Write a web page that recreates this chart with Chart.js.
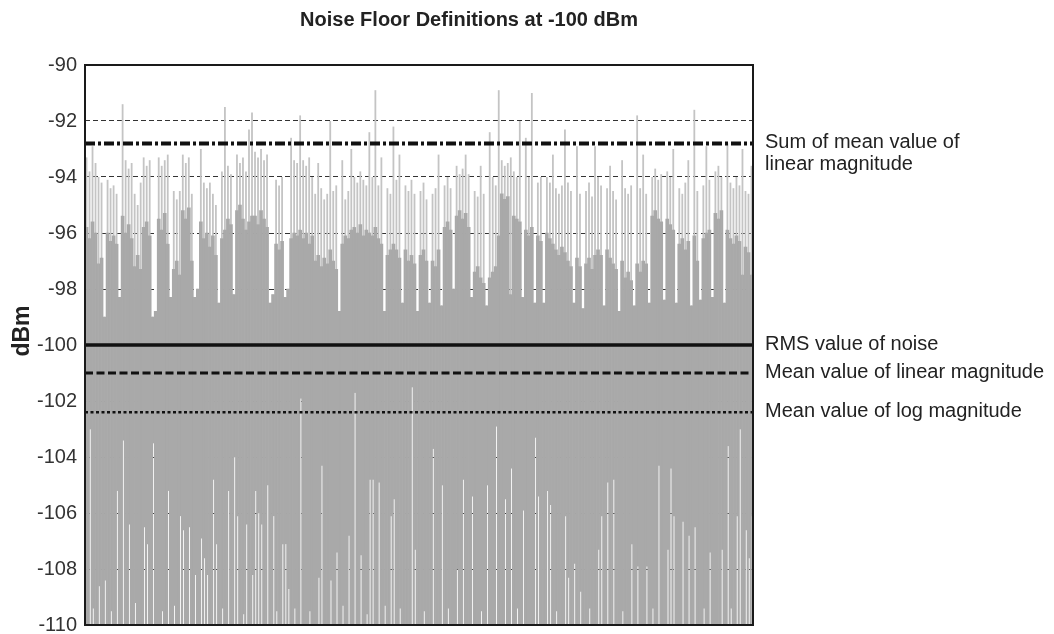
<!DOCTYPE html>
<html><head><meta charset="utf-8">
<script src="https://cdn.jsdelivr.net/npm/chart.js@4.4.1/dist/chart.umd.min.js"></script>
<style>html,body{margin:0;padding:0;background:#fff}#wrap{width:1054px;height:634px;position:relative}</style>
</head><body><div id="wrap"><canvas id="c"></canvas></div>
<script>
const titleText = 'Noise Floor Definitions at -100 dBm';
const yTitle = 'dBm';
const yMin = -110, yMax = -90, yStep = 2;

// dense (dark grey) top of the trace, per trace column
const bodyTop = [
-95.8,-96.2,-95.6,-96.0,-97.1,-96.9,-99.0,-96.0,-96.3,-96.1,
-96.4,-98.3,-95.4,-96.0,-95.7,-96.2,-97.2,-96.8,-97.3,-95.8,
-95.6,-96.1,-99.0,-98.8,-95.5,-95.9,-95.3,-96.4,-98.3,-97.3,
-97.0,-97.5,-95.2,-95.5,-95.1,-97.0,-98.3,-98.0,-95.6,-96.2,
-96.0,-96.5,-96.1,-96.8,-98.5,-96.2,-95.9,-95.5,-95.7,-98.2,
-95.2,-95.0,-95.5,-95.9,-95.6,-95.4,-95.4,-95.7,-95.2,-95.5,
-95.8,-98.5,-98.2,-96.4,-96.6,-96.3,-98.3,-98.0,-96.2,-96.0,
-96.1,-95.9,-96.2,-96.0,-96.4,-96.1,-97.0,-96.8,-97.2,-96.9,
-97.1,-96.6,-97.0,-97.3,-98.8,-96.4,-96.1,-96.2,-95.9,-95.8,
-96.0,-95.7,-96.1,-95.9,-96.0,-96.1,-95.8,-96.2,-96.4,-98.8,
-96.8,-96.6,-96.4,-96.6,-96.9,-98.5,-96.6,-97.0,-96.8,-97.1,
-98.8,-96.8,-96.6,-97.0,-98.5,-97.0,-97.2,-96.6,-98.6,-95.8,
-95.6,-95.9,-98.0,-95.4,-95.2,-95.5,-95.3,-95.8,-98.3,-97.4,
-97.2,-97.6,-97.8,-98.6,-97.6,-97.4,-97.2,-96.1,-94.6,-94.8,
-94.7,-98.2,-95.4,-95.5,-95.6,-98.3,-95.9,-96.1,-95.8,-98.5,
-96.1,-96.3,-98.5,-96.0,-96.2,-96.4,-96.6,-96.8,-96.5,-96.7,
-97.0,-97.2,-98.5,-96.9,-97.2,-98.7,-97.1,-96.9,-97.3,-96.8,
-96.6,-96.8,-98.6,-96.6,-96.9,-97.1,-97.3,-98.8,-97.0,-97.6,
-97.4,-97.7,-98.6,-97.1,-97.4,-97.0,-97.1,-98.5,-95.4,-95.2,
-95.5,-95.6,-98.4,-95.5,-95.7,-95.9,-98.5,-96.4,-96.2,-96.6,
-96.3,-98.6,-96.1,-97.0,-98.4,-96.2,-96.0,-95.9,-98.3,-95.3,
-95.5,-95.2,-98.5,-95.9,-96.2,-96.4,-96.1,-96.3,-97.5,-96.5,
-96.7,-97.5];

// peak of the thin light-grey spikes above the dense trace
const spikePeak = [
-93.3,-93.8,-92.9,-93.5,-94.0,-94.2,null,-94.1,-94.4,-94.3,
-94.6,null,-91.4,-93.4,-93.7,-93.5,-94.6,-95.0,-94.2,-93.3,
-93.6,-93.4,null,null,-93.3,-93.6,-93.4,-93.2,null,-94.5,
-94.8,-94.5,-93.2,-93.5,-93.3,-94.6,null,null,-93.0,-94.2,
-94.4,-94.2,-94.6,-95.0,null,-93.8,-91.5,-93.6,-93.9,null,
-93.2,-93.5,-93.3,-93.8,-92.3,-91.7,-93.1,-93.3,-93.0,-93.4,
-93.2,null,null,-94.1,-94.3,-94.0,null,null,-92.6,-93.4,
-93.5,-91.8,-93.4,-93.6,-93.3,-94.0,-94.6,-93.5,-94.4,-94.8,
-94.6,-92.0,-94.5,-94.3,null,-93.4,-94.8,-94.5,-93.0,-94.0,
-94.2,-93.8,-94.1,-94.3,-92.4,-94.0,-90.9,-94.3,-93.3,null,
-94.4,-94.6,-92.2,-94.1,-93.2,null,-94.3,-94.5,-94.1,-94.6,
null,-94.5,-94.2,-94.8,null,-94.6,-94.4,-93.2,null,-94.3,
-94.0,-94.4,null,-93.6,-93.9,-93.7,-93.2,-93.9,null,-94.5,
-94.7,-93.6,-94.6,null,-92.4,-94.0,-94.3,-90.9,-93.4,-93.6,
-93.5,-93.3,-93.8,-94.0,-92.0,null,-92.6,-94.0,-91.0,null,
-94.2,-94.0,null,-94.0,-94.2,-93.2,-94.4,-94.6,-94.3,-92.3,
-94.2,-94.5,null,-92.9,-94.6,null,-94.5,-94.2,-94.7,-92.9,
-94.0,-94.3,null,-94.4,-93.6,-94.5,-94.8,null,-93.4,-94.4,
-94.6,-94.3,null,-91.8,-94.4,-93.2,-94.6,null,-94.0,-93.7,
-94.1,-93.9,null,-93.8,-94.0,-93.0,null,-94.4,-94.6,-94.2,
-93.4,null,-91.6,-94.5,null,-94.3,-92.9,-94.1,null,-93.8,
-93.6,-94.0,null,-92.8,-94.2,-94.4,-94.0,-94.3,-93.0,-94.5,
-94.6,-93.6];

// columns where the trace dips, and the top of each white dip
const dipCols = [1,2,4,6,8,10,12,14,16,19,20,22,25,27,29,31,32,34,36,38,39,40,42,43,45,47,49,50,52,53,55,56,57,58,60,62,63,65,66,67,69,71,74,77,78,81,83,85,87,89,91,93,94,95,97,99,101,102,104,108,109,112,115,118,120,123,125,128,131,133,136,139,141,143,145,149,150,153,154,156,159,160,162,164,167,170,171,173,175,178,181,183,186,188,190,193,194,195,198,200,202,205,207,211,213,214,216,217,219,220,221];
const dipLevels = [-103.0,-109.4,-108.6,-108.4,-109.5,-105.2,-103.4,-106.4,-109.2,-106.5,-107.1,-103.5,-109.5,-105.2,-109.3,-106.1,-106.6,-106.5,-108.2,-106.9,-107.6,-108.2,-104.8,-107.1,-109.4,-105.2,-104.0,-106.1,-109.6,-106.4,-108.2,-105.2,-106.0,-106.4,-105.0,-106.1,-109.5,-107.1,-107.1,-108.7,-109.4,-101.9,-109.5,-108.3,-104.3,-108.4,-107.4,-109.3,-106.8,-101.7,-107.5,-109.6,-104.8,-104.8,-104.9,-109.3,-106.1,-105.5,-109.4,-101.5,-107.3,-109.5,-103.7,-105.0,-109.4,-108.0,-104.8,-105.4,-109.5,-105.0,-102.9,-105.5,-104.4,-109.4,-105.9,-103.3,-105.4,-105.2,-105.7,-109.5,-106.1,-108.3,-107.8,-108.8,-109.4,-107.3,-106.1,-104.9,-104.8,-109.5,-107.1,-107.9,-107.9,-109.4,-104.3,-107.3,-104.4,-106.1,-106.3,-106.8,-106.5,-109.4,-107.4,-107.3,-103.6,-109.4,-106.1,-103.0,-106.6,-107.6,-106.1];

// horizontal noise-floor definitions
const refLevels = [-92.8, -100, -101, -102.4];
const refLabels = [['Sum of mean value of', 'linear magnitude'], ['RMS value of noise'], ['Mean value of linear magnitude'], ['Mean value of log magnitude']];

// ---- build library data ----
const categories = bodyTop.map((_, i) => String(i));
const lows = bodyTop.map(() => yMin);
dipCols.forEach((c, k) => { lows[c] = dipLevels[k]; });

const refStyle = [
  {w: 4, dash: [10, 3, 3, 3]},
  {w: 3.5, dash: []},
  {w: 3, dash: [8, 3.5]},
  {w: 2.5, dash: [3, 2.5]}
];
const FONT = '"Liberation Sans", Arial, Helvetica, sans-serif';

const overlay = {
  id: 'overlay',
  afterDatasetsDraw(chart) {
    const {ctx, chartArea: a, scales: {y}} = chart;
    ctx.save();
    refLevels.forEach((v, i) => {
      const py = y.getPixelForValue(v);
      ctx.beginPath();
      ctx.setLineDash(refStyle[i].dash);
      ctx.lineWidth = refStyle[i].w;
      ctx.strokeStyle = '#111';
      ctx.moveTo(a.left, py);
      ctx.lineTo(a.right, py);
      ctx.stroke();
    });
    ctx.setLineDash([]);
    ctx.lineWidth = 2;
    ctx.strokeStyle = '#1a1a1a';
    ctx.strokeRect(a.left, a.top, a.right - a.left, a.bottom - a.top);
    // labels at right
    ctx.fillStyle = '#222';
    ctx.font = '20px ' + FONT;
    ctx.textAlign = 'left';
    ctx.textBaseline = 'middle';
    refLevels.forEach((v, i) => {
      const py = y.getPixelForValue(v);
      refLabels[i].forEach((t, j) => ctx.fillText(t, a.right + 12, py - 1 + j * 22));
    });
    // title
    ctx.font = 'bold 20px ' + FONT;
    ctx.textAlign = 'center';
    ctx.fillText(titleText, 469, 20);
    // y title
    ctx.save();
    ctx.translate(23, 331);
    ctx.rotate(-Math.PI / 2);
    ctx.font = 'bold 23px ' + FONT;
    ctx.fillText(yTitle, 0, 0);
    ctx.restore();
    ctx.restore();
  }
};

new Chart(document.getElementById('c'), {
  type: 'bar',
  data: {
    labels: categories,
    datasets: [
      {
        label: 'trace A',
        data: bodyTop.map(t => [yMin, t]),
        backgroundColor: '#a9a9a9',
        barPercentage: 1, categoryPercentage: 1, borderWidth: 0
      },
      {
        label: 'trace B',
        data: bodyTop.map((t, i) => [lows[i], t]),
        backgroundColor: '#a9a9a9',
        barPercentage: 1, categoryPercentage: 1, borderWidth: 0
      },
      {
        label: 'spikes',
        data: spikePeak.map((p, i) => p == null ? null : [bodyTop[i], p]),
        backgroundColor: '#c4c4c4',
        grouped: false,
        barPercentage: 0.6, categoryPercentage: 1, borderWidth: 0
      }
    ]
  },
  options: {
    responsive: true,
    maintainAspectRatio: false,
    animation: false,
    events: [],
    layout: {padding: {left: 0, right: 301, top: 65, bottom: 9}},
    plugins: {legend: {display: false}, title: {display: false}, tooltip: {enabled: false}},
    scales: {
      x: {type: 'category', display: false, offset: true, grid: {display: false}},
      y: {
        min: yMin, max: yMax,
        ticks: {stepSize: yStep, font: {family: FONT, size: 20}, color: '#333', padding: 8},
        grid: {color: '#333', lineWidth: 1, drawTicks: false},
        border: {display: false, dash: [5, 3]},
        afterFit(s) { s.width = 85; s.paddingTop = 0; s.paddingBottom = 0; }
      }
    }
  },
  plugins: [overlay]
});
</script></body></html>
